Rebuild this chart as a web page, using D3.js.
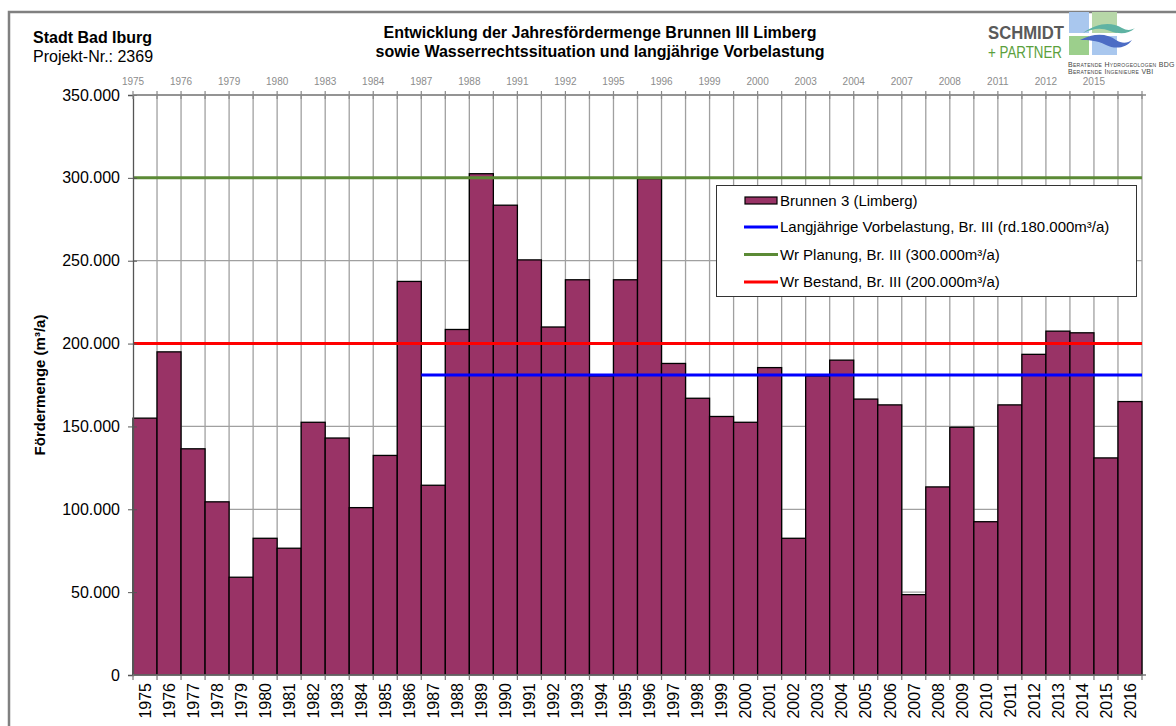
<!DOCTYPE html>
<html>
<head>
<meta charset="utf-8">
<script src="https://cdn.jsdelivr.net/npm/d3@7/dist/d3.min.js"></script>
<style>
  html, body { margin: 0; padding: 0; background: #fff; }
  svg { display: block; font-family: "Liberation Sans", Arial, sans-serif; }
</style>
</head>
<body>
<svg id="chart" width="1176" height="726"></svg>
<script>
const years = [1975,1976,1977,1978,1979,1980,1981,1982,1983,1984,1985,1986,1987,1988,1989,1990,1991,1992,1993,1994,1995,1996,1997,1998,1999,2000,2001,2002,2003,2004,2005,2006,2007,2008,2009,2010,2011,2012,2013,2014,2015,2016];
const volumes = [155000,195000,136500,104500,59000,82500,76500,152500,143000,101000,132500,237500,114500,208500,302500,283500,250500,210000,238500,180500,238500,299500,188000,167000,156000,152500,185500,82500,180500,190000,166500,163000,48500,113500,149500,92500,163000,193500,207500,206500,131000,165000];
const topLabels = ["1975","1976","1979","1980","1983","1984","1987","1988","1991","1992","1995","1996","1999","2000","2003","2004","2007","2008","2011","2012","2015"];
const yTicks = [0,50000,100000,150000,200000,250000,300000,350000];
const refNames = ["Langjährige Vorbelastung, Br. III (rd.180.000m³/a)","Wr Planung, Br. III (300.000m³/a)","Wr Bestand, Br. III (200.000m³/a)"];
const refValues = [181000,300000,200000];
const refStartYear = [1987,1975,1975];
const seriesName = "Brunnen 3 (Limberg)";
const titleLines = ["Entwicklung der Jahresfördermenge Brunnen III Limberg","sowie Wasserrechtssituation und langjährige Vorbelastung"];
const headerLines = ["Stadt Bad Iburg","Projekt-Nr.: 2369"];
const yTitle = "Fördermenge (m³/a)";

const svg = d3.select("#chart");
const L = 133, R = 1142, T = 95, B = 675;
const refColors = ["#0000ff","#5b8a35","#ff0000"];
const barFill = "#993366";
const gridCol = "#a0a0a0";

const x = d3.scaleBand().domain(years).range([L, R]).padding(0);
const xi = d3.scaleLinear().domain([0, years.length]).range([L, R]);
const y = d3.scaleLinear().domain([0, 350000]).range([B, T]);
const fmt = v => d3.format(",")(v).replace(/,/g, ".");

// outer frame
svg.append("path").attr("d", "M9,726 V12 H1176").attr("fill","none").attr("stroke","#808080").attr("stroke-width",2.5);

// header
svg.append("text").attr("x",33).attr("y",43).attr("font-size",16).attr("font-weight","bold").text(headerLines[0]);
svg.append("text").attr("x",33).attr("y",62).attr("font-size",16).text(headerLines[1]);
titleLines.forEach((t,i)=>{
  svg.append("text").attr("x",600).attr("y",38+i*19).attr("text-anchor","middle")
    .attr("font-size",16).attr("font-weight","bold").text(t);
});

// logo
const logo = svg.append("g");
logo.append("text").attr("x",988).attr("y",38.5).attr("font-size",19).attr("font-weight","bold").attr("fill","#5a5a5a")
  .attr("textLength",76).attr("lengthAdjust","spacingAndGlyphs").text("SCHMIDT");
logo.append("text").attr("x",988).attr("y",57.5).attr("font-size",16).attr("fill","#5aa03c")
  .attr("textLength",74).attr("lengthAdjust","spacingAndGlyphs").text("+ PARTNER");
logo.append("rect").attr("x",1069).attr("y",12).attr("width",20).attr("height",21).attr("fill","#a9c7ee");
logo.append("rect").attr("x",1092).attr("y",12).attr("width",25).attr("height",21).attr("fill","#b7d7a8");
logo.append("rect").attr("x",1069).attr("y",36).attr("width",20).attr("height",19).attr("fill","#9ccf8c");
logo.append("rect").attr("x",1092).attr("y",36).attr("width",25).attr("height",19).attr("fill","#a9c7ee");
logo.append("path").attr("d","M1083,33 C1098,22 1112,22 1122,28 C1127,31 1132,30 1135,28 C1128,35 1118,34 1110,31 C1100,27 1092,29 1083,33 Z").attr("fill","#5fb3a3");
logo.append("path").attr("d","M1080,40 C1095,32 1108,34 1116,40 C1122,44 1128,43 1132,40 C1126,49 1114,49 1106,45 C1096,40 1088,40 1080,40 Z").attr("fill","#4c6cc4");
logo.append("text").attr("x",1068).attr("y",67).attr("font-size",7).attr("fill","#444").attr("font-variant","small-caps").attr("letter-spacing","0.3").text("Beratende Hydrogeologen BDG");
logo.append("text").attr("x",1068).attr("y",74).attr("font-size",7).attr("fill","#444").attr("font-variant","small-caps").attr("letter-spacing","0.3").text("Beratende Ingenieure VBI");

// gridlines
const grid = svg.append("g");
grid.selectAll("line.h").data(yTicks.filter(v=>v>0)).join("line")
  .attr("x1",L).attr("x2",R).attr("y1",d=>y(d)).attr("y2",d=>y(d))
  .attr("stroke",gridCol).attr("stroke-width",1.3);
grid.selectAll("line.v").data(d3.range(1, years.length+1)).join("line")
  .attr("x1",d=>xi(d)).attr("x2",d=>xi(d)).attr("y1",T).attr("y2",B)
  .attr("stroke",gridCol).attr("stroke-width",1.3);

// bars
svg.append("g").selectAll("rect").data(years).join("rect")
  .attr("x",(d)=>x(d)).attr("width",x.bandwidth())
  .attr("y",(d,i)=>y(volumes[i])).attr("height",(d,i)=>B-y(volumes[i]))
  .attr("fill",barFill).attr("stroke","#000").attr("stroke-width",1.3);

// reference lines
refValues.forEach((v,i)=>{
  svg.append("line").attr("x1",x(refStartYear[i])).attr("x2",R)
    .attr("y1",y(v)).attr("y2",y(v)).attr("stroke",refColors[i]).attr("stroke-width",3);
});

// left axis
const yAxis = svg.append("g").attr("transform",`translate(${L},0)`)
  .call(d3.axisLeft(y).tickValues(yTicks).tickFormat(fmt).tickSize(5).tickPadding(8));
yAxis.select(".domain").attr("stroke","#555").attr("stroke-width",1.3);
yAxis.selectAll(".tick line").attr("stroke","#555").attr("x2",-5).attr("x1",4);
yAxis.selectAll(".tick text").attr("font-size",16).attr("fill","#000")
  .attr("font-family","'Liberation Sans', Arial, sans-serif");

// bottom axis
const xAxis = svg.append("g").attr("transform",`translate(0,${B})`)
  .call(d3.axisBottom(x).tickSize(0).tickPadding(0));
xAxis.select(".domain").remove();
svg.append("line").attr("x1",L).attr("x2",R+4).attr("y1",B).attr("y2",B).attr("stroke","#777").attr("stroke-width",1.3);
svg.append("g").selectAll("line").data(d3.range(0, years.length+1)).join("line")
  .attr("x1",d=>xi(d)).attr("x2",d=>xi(d)).attr("y1",B).attr("y2",B+5).attr("stroke","#777").attr("stroke-width",1.2);
xAxis.selectAll(".tick text")
  .attr("font-size",16).attr("fill","#000")
  .attr("font-family","'Liberation Sans', Arial, sans-serif")
  .attr("transform","rotate(-90)")
  .attr("text-anchor","end").attr("x",-8).attr("y",0).attr("dy","0.36em");

// top axis
const topG = svg.append("g");
topG.append("line").attr("x1",L).attr("x2",R+4).attr("y1",T).attr("y2",T).attr("stroke","#888").attr("stroke-width",1.3);
topG.selectAll("line.t").data(d3.range(0, years.length+1)).join("line")
  .attr("x1",d=>xi(d)).attr("x2",d=>xi(d)).attr("y1",T-4).attr("y2",T+4).attr("stroke","#888").attr("stroke-width",1.2);
topG.selectAll("text").data(topLabels).join("text")
  .attr("x",(d,i)=>xi(i*2)).attr("y",T-10).attr("text-anchor","middle")
  .attr("font-size",10).attr("fill","#8c8c8c").text(d=>d);

// y title
svg.append("text").attr("transform","translate(45,385) rotate(-90)").attr("text-anchor","middle")
  .attr("font-size",15).attr("font-weight","bold").text(yTitle);

// legend
const lg = svg.append("g");
lg.append("rect").attr("x",716.5).attr("y",185.5).attr("width",420).attr("height",111)
  .attr("fill","#fff").attr("stroke","#333").attr("stroke-width",1);
const rowY = [200.5, 227, 254.5, 282];
lg.append("rect").attr("x",745).attr("y",rowY[0]-3.5).attr("width",32).attr("height",7)
  .attr("fill",barFill).attr("stroke","#000").attr("stroke-width",1.2);
lg.append("text").attr("x",780).attr("y",rowY[0]).attr("dy","0.35em").attr("font-size",15).text(seriesName);
refNames.forEach((n,i)=>{
  lg.append("line").attr("x1",744).attr("x2",778).attr("y1",rowY[i+1]).attr("y2",rowY[i+1])
    .attr("stroke",refColors[i]).attr("stroke-width",3);
  lg.append("text").attr("x",780).attr("y",rowY[i+1]).attr("dy","0.35em").attr("font-size",15).text(n);
});
</script>
</body>
</html>
